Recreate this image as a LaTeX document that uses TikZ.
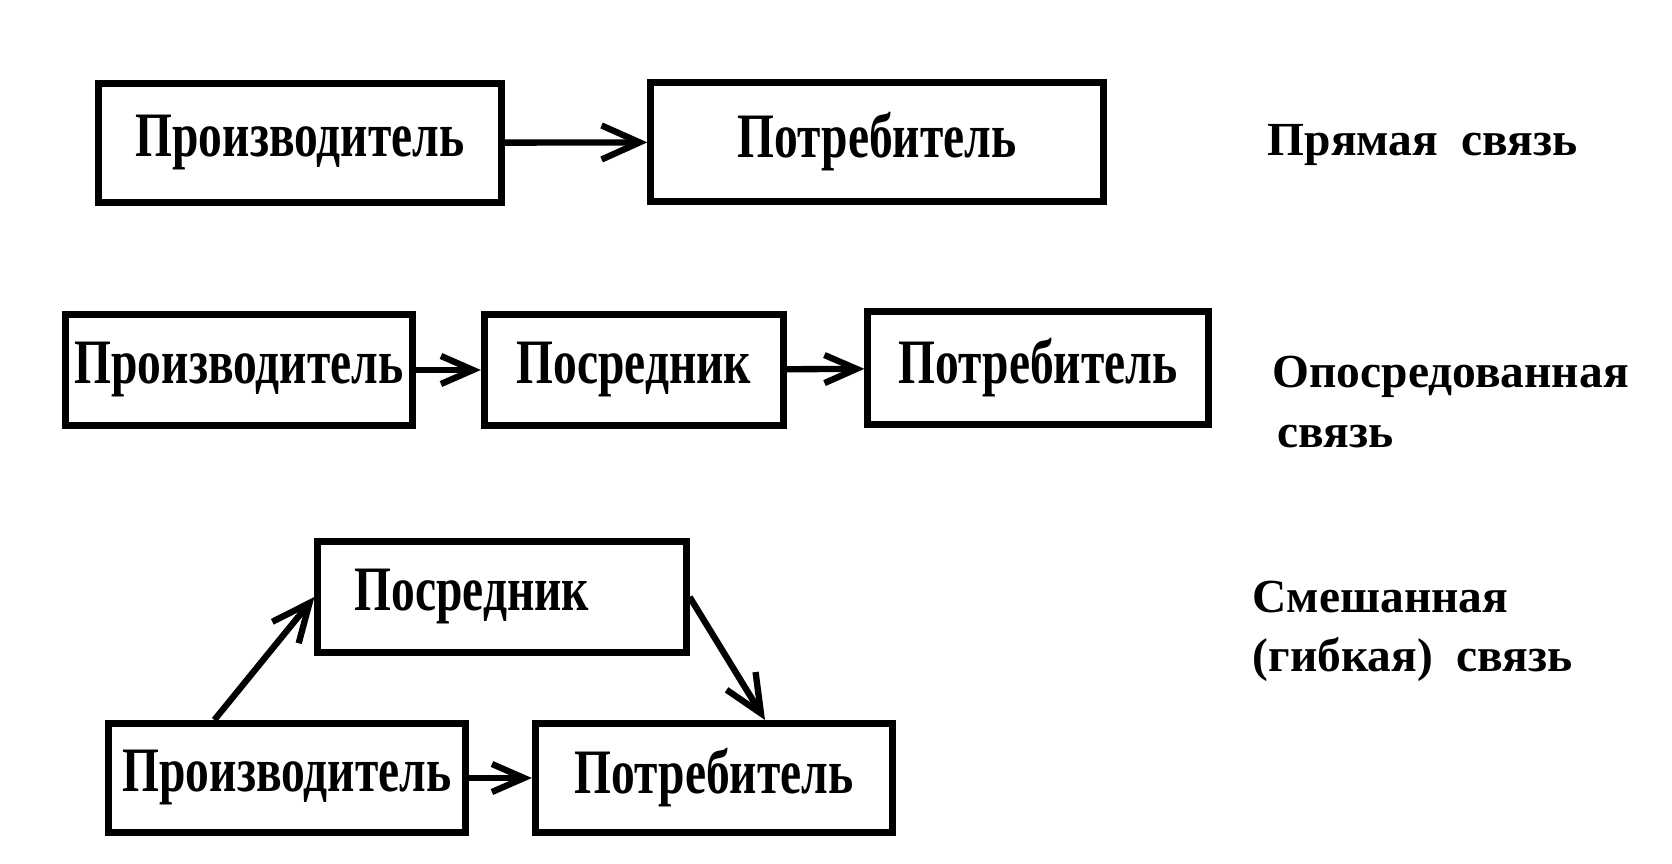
\documentclass[tikz,border=0pt]{standalone}
\usepackage{fontspec}
\setmainfont{Liberation Serif}
\newfontfamily\boxfont[FakeStretch=0.75]{Liberation Serif}
\usepackage{tikz}
\usetikzlibrary{calc, arrows.meta}

\begin{document}
\begin{tikzpicture}[x=0.01cm, y=-0.01cm,
        box/.style={draw, line width=2pt, inner sep=0pt, font=\boxfont\bfseries\fontsize{18}{20}\selectfont},
        conn/.style={line width=1.8pt, -{Straight Barb[length=0.38cm, width=0.34cm]}},
        smallconn/.style={line width=1.8pt, -{Straight Barb[length=0.32cm, width=0.28cm]}},
        kind/.style={anchor=west, inner sep=0pt, align=left, font=\bfseries\fontsize{13.5}{16.8}\selectfont}]

            \useasboundingbox (0,0) rectangle (1672,864);

            \node[box, minimum width=4.03cm, minimum height=1.18cm] (prodA) at (300,143) {Производитель};
            \node[box, minimum width=4.52cm, minimum height=1.19cm] (consA) at (877,142) {Потребитель};
            \draw[conn] (prodA) to (consA);
            \node[kind] (direct) at (1267,145) {Прямая\ \ связь};

            \node[box, minimum width=3.47cm, minimum height=1.10cm] (prodB) at (239,370) {Производитель};
            \node[box, minimum width=2.99cm, minimum height=1.10cm] (midB) at (634,370) {Посредник};
            \node[box, minimum width=3.40cm, minimum height=1.12cm] (consB) at (1038,368) {Потребитель};
            \draw[smallconn] (prodB) to (midB);
            \draw[smallconn] (midB) to (consB);
            \node[kind] (indirect) at (1272,402) {Опосредованная\\\hspace*{0.05cm}связь};

            \node[box, minimum width=3.68cm, minimum height=1.10cm] (midC) at (502,597) {Посредник\hspace*{0.6cm}};
            \node[box, minimum width=3.56cm, minimum height=1.09cm] (prodC) at (287,778) {Производитель};
            \node[box, minimum width=3.57cm, minimum height=1.09cm] (consC) at (714,778) {Потребитель};
            \draw[conn] ($(prodC.north west)!0.3!(prodC.north east)$) to (midC.west);
            \draw[conn] (midC.east) to ($(consC.north west)!0.64!(consC.north east)$);
            \draw[smallconn] (prodC) to (consC);
            \node[kind] (mixed) at (1252,631) {Смешанная\\(гибкая)\ \ связь};

        \end{tikzpicture}
\end{document}
